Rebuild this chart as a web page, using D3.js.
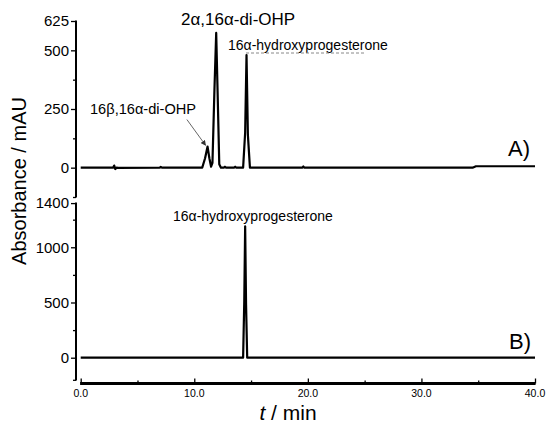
<!DOCTYPE html>
<html>
<head>
<meta charset="utf-8">
<script src="https://cdn.jsdelivr.net/npm/d3@7"></script>
<style>
  html, body { margin: 0; padding: 0; background: #fff; }
  svg { display: block; font-family: "Liberation Sans", Arial, sans-serif; }
</style>
</head>
<body>
<svg id="chart" width="547" height="427"></svg>
<script>
// ---- data ----
const timeA = [0, 2.85, 2.95, 3.05, 3.15, 3.3, 6.95, 7.05, 7.15, 10.7, 10.95, 11.17, 11.33, 11.48, 11.6, 11.78, 11.93, 12.05, 12.2, 12.35, 12.6, 12.7, 12.8, 13.5, 13.6, 13.7, 14.3, 14.48, 14.6, 14.72, 14.9, 19.5, 19.6, 19.7, 34.5, 34.8, 40];
const absA  = [0, 0,    9,    -6,   0,    -1,  0,    3,    0,    0,    40,    90,    40,    4,     20,    340,   574,   330,   15,    0,     0,     4,     0,    0,    4,    0,    0,    150,   480,   140,   0,    0,    5,    0,    0,    6,    6];
const timeB = [0, 14.3, 14.4, 14.48, 14.56, 14.66, 40];
const absB  = [0, 0,    500,  1190,  480,   0,     0];
const xTicks = [0, 10, 20, 30, 40];
const xMinor = [5, 15, 25, 35];
const yTicksA = [0, 250, 500, 625];
const yMinorA = [-125, 125, 375];
const yTicksB = [0, 500, 1000, 1400];
const yMinorB = [-200, 250, 750, 1250];
const labels = {
  a1: "2\u03B1,16\u03B1-di-OHP",
  a2: "16\u03B1-hydroxyprogesterone",
  a3: "16\u03B2,16\u03B1-di-OHP",
  b1: "16\u03B1-hydroxyprogesterone"
};

// ---- layout ----
const svg = d3.select("#chart");
const x = d3.scaleLinear().domain([0, 40]).range([80.7, 535]);
const yA = d3.scaleLinear().domain([-125, 625]).range([197, 21]);
const yB = d3.scaleLinear().domain([-200, 1400]).range([379.8, 203.1]);
const axisX = 76;

function yAxis(scale, major, minor) {
  const g = svg.append("g").attr("transform", `translate(${axisX},0)`);
  g.call(d3.axisLeft(scale).tickValues(major).tickSize(5).tickFormat(d3.format("d")).tickPadding(2))
    .call(s => s.select(".domain").remove());
  g.selectAll(".tick line").attr("stroke", "#000").attr("stroke-width", 1.3);
  g.selectAll(".tick text").attr("font-size", 15).attr("fill", "#000")
    .attr("font-family", "Liberation Sans, Arial, sans-serif");
  const gm = svg.append("g").attr("transform", `translate(${axisX},0)`);
  gm.call(d3.axisLeft(scale).tickValues(minor).tickSize(3).tickFormat(""))
    .call(s => s.select(".domain").remove());
  gm.selectAll(".tick line").attr("stroke", "#000").attr("stroke-width", 1.3);
  const r = scale.range();
  svg.append("line").attr("x1", axisX).attr("x2", axisX)
    .attr("y1", r[0] + 0.6).attr("y2", r[1] - 0.6)
    .attr("stroke", "#000").attr("stroke-width", 2);
}
yAxis(yA, yTicksA, yMinorA);
yAxis(yB, yTicksB, yMinorB);

// x axis
const xAxisY = 383.5;
const gx = svg.append("g").attr("transform", `translate(0,${xAxisY})`);
gx.call(d3.axisTop(x).tickValues(xTicks).tickSize(5).tickFormat(""))
  .call(s => s.select(".domain").remove());
gx.selectAll(".tick line").attr("stroke", "#000").attr("stroke-width", 1.3);
const gxm = svg.append("g").attr("transform", `translate(0,${xAxisY})`);
gxm.call(d3.axisTop(x).tickValues(xMinor).tickSize(3).tickFormat(""))
  .call(s => s.select(".domain").remove());
gxm.selectAll(".tick line").attr("stroke", "#000").attr("stroke-width", 1.3);
svg.append("line").attr("x1", x(0) - 0.6).attr("x2", x(40) + 0.6)
  .attr("y1", xAxisY).attr("y2", xAxisY).attr("stroke", "#000").attr("stroke-width", 3);
svg.append("g").selectAll("text").data(xTicks).join("text")
  .attr("x", d => x(d)).attr("y", 397).attr("text-anchor", "middle")
  .attr("font-size", 10.5).text(d => d3.format(".1f")(d));

// traces
const lineA = d3.line().x(d => x(d[0])).y(d => yA(d[1]));
const lineB = d3.line().x(d => x(d[0])).y(d => yB(d[1]));
svg.append("path").attr("d", lineA(d3.zip(timeA, absA)))
  .attr("fill", "none").attr("stroke", "#000").attr("stroke-width", 2.2).attr("stroke-linejoin", "round");
svg.append("path").attr("d", lineB(d3.zip(timeB, absB)))
  .attr("fill", "none").attr("stroke", "#000").attr("stroke-width", 2.2).attr("stroke-linejoin", "round");

// axis titles
svg.append("text").attr("transform", "translate(26,181) rotate(-90)")
  .attr("text-anchor", "middle").attr("font-size", 20).text("Absorbance / mAU");
const tt = svg.append("text").attr("x", 288).attr("y", 420).attr("text-anchor", "middle").attr("font-size", 21);
tt.append("tspan").attr("font-style", "italic").text("t");
tt.append("tspan").text(" / min");

// annotations
svg.append("text").attr("x", 181).attr("y", 25).attr("font-size", 17).text(labels.a1);
svg.append("text").attr("x", 228).attr("y", 50).attr("font-size", 14).text(labels.a2);
svg.append("line").attr("x1", 246).attr("x2", 366).attr("y1", 53).attr("y2", 53)
  .attr("stroke", "#888").attr("stroke-width", 1).attr("stroke-dasharray", "3,2");
svg.append("text").attr("x", 90).attr("y", 114).attr("font-size", 14.6).text(labels.a3);
svg.append("text").attr("x", 508).attr("y", 156).attr("font-size", 22).text("A)");
svg.append("text").attr("x", 173).attr("y", 221).attr("font-size", 14).text(labels.b1);
svg.append("text").attr("x", 509).attr("y", 349).attr("font-size", 22).text("B)");

// arrow to the small peak
const defs = svg.append("defs");
defs.append("marker").attr("id", "ah").attr("viewBox", "0 0 10 10").attr("refX", 9).attr("refY", 5)
  .attr("markerWidth", 6).attr("markerHeight", 6).attr("orient", "auto")
  .append("path").attr("d", "M0,0 L10,5 L0,10 z").attr("fill", "#333");
svg.append("line")
  .attr("x1", x(9.35)).attr("y1", yA(205))
  .attr("x2", x(11.0)).attr("y2", yA(95))
  .attr("stroke", "#555").attr("stroke-width", 0.9).attr("marker-end", "url(#ah)");
</script>
</body>
</html>
